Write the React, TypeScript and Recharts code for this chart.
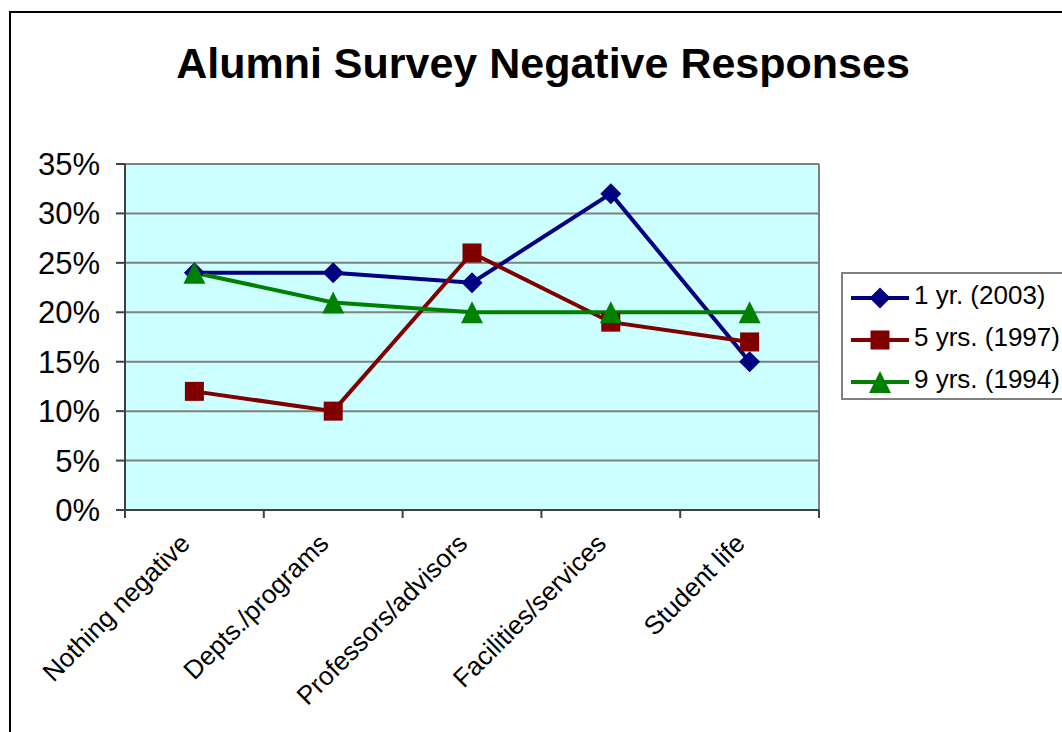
import React from 'react';
import { LineChart, Line, XAxis, YAxis, CartesianGrid, ReferenceLine } from 'recharts';

const categories = ['Nothing negative', 'Depts./programs', 'Professors/advisors', 'Facilities/services', 'Student life'];
const oneYear2003 = [24, 24, 23, 32, 15];
const fiveYears1997 = [12, 10, 26, 19, 17];
const nineYears1994 = [24, 21, 20, 20, 20];
const yTicks = [0, 5, 10, 15, 20, 25, 30, 35];
const xTicks = [0, 0.5, 1, 1.5, 2, 2.5, 3, 3.5, 4, 4.5, 5];

const FONT = '"Liberation Sans", Arial, Helvetica, sans-serif';

const data = categories.map((name, i) => ({
  x: i + 0.5,
  name,
  a: oneYear2003[i],
  b: fiveYears1997[i],
  c: nineYears1994[i],
}));

type Shape = 'diamond' | 'square' | 'triangle';

const series: { key: string; name: string; color: string; shape: Shape }[] = [
  { key: 'a', name: '1 yr. (2003)', color: '#000080', shape: 'diamond' },
  { key: 'b', name: '5 yrs. (1997)', color: '#800000', shape: 'square' },
  { key: 'c', name: '9 yrs. (1994)', color: '#008000', shape: 'triangle' },
];

function Marker({ cx, cy, shape, color }: { cx: number; cy: number; shape: Shape; color: string }) {
  if (cx == null || cy == null || isNaN(cx) || isNaN(cy)) return null;
  if (shape === 'diamond') {
    const r = 10.5;
    return <polygon points={`${cx},${cy - r} ${cx + r},${cy} ${cx},${cy + r} ${cx - r},${cy}`} fill={color} />;
  }
  if (shape === 'square') {
    const r = 9.5;
    return <rect x={cx - r} y={cy - r} width={2 * r} height={2 * r} fill={color} />;
  }
  const r = 11;
  return <polygon points={`${cx},${cy - r} ${cx + r},${cy + r} ${cx - r},${cy + r}`} fill={color} />;
}

function XTick(props: any) {
  const { x, y, payload } = props;
  const v = payload.value as number;
  if (Number.isInteger(v)) {
    return <line x1={x} x2={x} y1={y - 8} y2={y} stroke="#404040" strokeWidth={2} />;
  }
  const label = categories[Math.floor(v)];
  const ax = x - 3;
  const ay = y + 27;
  return (
    <text
      x={ax}
      y={ay}
      textAnchor="end"
      transform={`rotate(-45 ${ax} ${ay})`}
      fontSize={26}
      fontFamily={FONT}
      fill="#000"
    >
      {label}
    </text>
  );
}

export default function App() {
  return (
    <div style={{ position: 'absolute', left: 0, top: 0, width: 1062, height: 732, overflow: 'hidden', background: '#fff' }}>
      <div style={{ position: 'absolute', left: 0, top: 0 }}>
        <LineChart width={1062} height={732} data={data} margin={{ top: 164, right: 243, bottom: 0, left: 0 }}>
          <CartesianGrid vertical={false} horizontal stroke="#808080" strokeWidth={2} fill="#CCFFFF" fillOpacity={1} />
          <XAxis
            type="number"
            dataKey="x"
            domain={[0, 5]}
            ticks={xTicks}
            interval={0}
            height={222}
            tickLine={false}
            tickSize={8}
            tickMargin={0}
            axisLine={{ stroke: '#404040', strokeWidth: 2 }}
            tick={(p: any) => <XTick {...p} />}
            allowDataOverflow
          />
          <YAxis
            type="number"
            domain={[0, 35]}
            ticks={yTicks}
            interval={0}
            width={125}
            tickSize={9}
            tickMargin={16}
            tickFormatter={(v: number) => `${v}%`}
            tick={{ fontSize: 31, fill: '#000', fontFamily: FONT }}
            tickLine={{ stroke: '#404040', strokeWidth: 2 }}
            axisLine={{ stroke: '#404040', strokeWidth: 2 }}
          />
          <ReferenceLine x={5} stroke="#808080" strokeWidth={2} />
          {series.map((s) => (
            <Line
              key={s.key}
              type="linear"
              dataKey={s.key}
              name={s.name}
              stroke={s.color}
              strokeWidth={4}
              isAnimationActive={false}
              activeDot={false}
              dot={(p: any) => <Marker key={`${s.key}-${p.index}`} cx={p.cx} cy={p.cy} shape={s.shape} color={s.color} />}
            />
          ))}
        </LineChart>
      </div>
      <svg width={1062} height={732} style={{ position: 'absolute', left: 0, top: 0, pointerEvents: 'none' }}>
        <rect x={10} y={12} width={1200} height={900} fill="none" stroke="#000" strokeWidth={2} />
        <text x={543} y={78} textAnchor="middle" fontSize={43} fontWeight="bold" fontFamily={FONT} fill="#000">
          Alumni Survey Negative Responses
        </text>
        <rect x={842} y={273} width={300} height={126} fill="#fff" stroke="#808080" strokeWidth={2} />
        {series.map((s, i) => {
          const cy = 298 + i * 42;
          return (
            <g key={s.key}>
              <line x1={851} x2={909} y1={cy} y2={cy} stroke={s.color} strokeWidth={4} />
              <Marker cx={880} cy={cy} shape={s.shape} color={s.color} />
              <text x={914} y={cy + 5.5} fontSize={26} fontFamily={FONT} fill="#000">
                {s.name}
              </text>
            </g>
          );
        })}
      </svg>
    </div>
  );
}
